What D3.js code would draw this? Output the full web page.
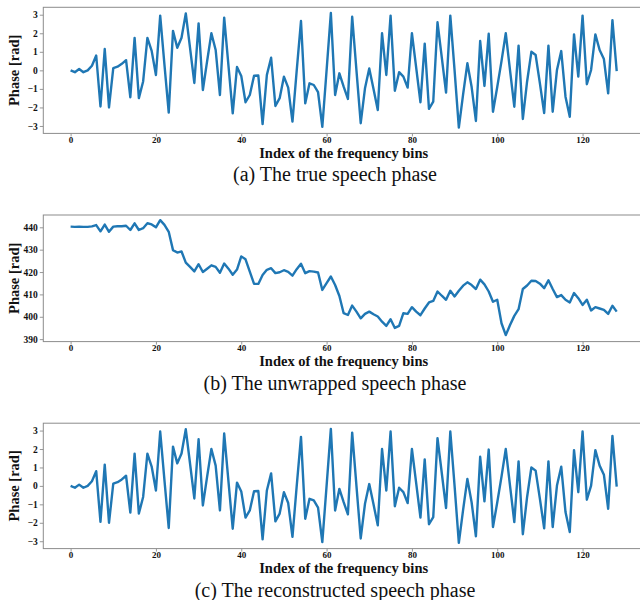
<!DOCTYPE html>
<html>
<head>
<meta charset="utf-8">
<script src="https://cdn.jsdelivr.net/npm/d3@7"></script>
<style>
  html, body { margin: 0; padding: 0; background: #fff; }
  svg { display: block; }
</style>
</head>
<body>
<svg id="chart" width="640" height="600"></svg>
<script>
// ---- data ----
const xTicks = [0, 20, 40, 60, 80, 100, 120];
const phaseTicks = [-3, -2, -1, 0, 1, 2, 3];
const unwrapTicks = [390, 400, 410, 420, 430, 440];

const truePhase = [
  0, -0.1, 0.07, -0.1, 0, 0.25, 0.8, -1.95, 1.15, -2.0,
  0.12, 0.2, 0.35, 0.55, -1.45, 1.75, -1.5, -0.6, 1.75, 1.05,
  -0.25, 2.95, 0.3, -2.28, 2.13, 1.22, 1.76, 3.07, 1.2, -0.68,
  2.53, -1.06, 0.5, 2.0, 1.1, -1.33, 2.84, 0.25, -2.32, 0.18,
  -0.3, -1.72, -1.33, -0.29, -0.28, -2.9, -0.25, 0.68, -1.92, -1.5,
  -0.34, -0.93, -2.76, 0, 2.66, -1.78, -0.7, -0.79, -1.18, -3.05,
  0, 3.09, -1.33, -0.16, -0.88, -1.54, 2.89, 0, -2.85, -0.97,
  0.1, -1.0, -2.14, 2.0, -0.25, 2.95, -1.1, -0.1, -0.34, -0.93,
  2.0, 0.15, -1.72, 1.44, -2.08, -1.69, 2.59, 0.7, -1.2, 2.95,
  0, -3.09, -1.3, 0.38, -0.9, -2.73, 1.58, -0.84, 1.97, -2.23,
  -0.9, 0.5, 2.0, 0, -1.96, 1.33, -2.62, -0.6, 1.0, 0.83,
  -0.7, -2.3, 1.33, -2.23, 0.02, 1.04, -1.42, -2.5, 1.94, -0.34,
  2.95, -0.75, 0.02, 1.94, 1.1, 0.61, -1.24, 2.71, -0.04
];

const unwrappedPhase = [
  440.3, 440.2, 440.3, 440.2, 440.2, 440.4, 441.0, 438.2, 441.2, 438.0,
  440.3, 440.5, 440.5, 440.7, 438.8, 441.8, 438.8, 439.6, 441.8, 441.3,
  440.0, 443.2, 441.1, 438.0, 429.8, 428.7, 429.2, 424.2, 422.3, 420.3,
  423.5, 420.0, 421.5, 423.0, 422.3, 419.7, 423.8, 421.5, 418.8, 421.1,
  427.0, 425.7, 420.2, 414.7, 414.7, 418.7, 421.0, 421.7, 419.5, 419.9,
  420.8, 420.1, 418.4, 421.3, 423.7, 419.5, 420.4, 420.2, 419.8, 412.0,
  415.0, 418.0, 414.2, 409.3, 401.6, 400.8, 405.0, 402.3, 399.3, 401.3,
  402.3, 401.1, 400.1, 397.8, 395.9, 398.9, 395.0, 395.9, 401.6, 401.3,
  404.3, 402.3, 400.7, 403.7, 406.4, 407.1, 411.3, 409.4, 407.6, 411.6,
  409.1, 411.6, 413.9, 415.4, 414.2, 412.4, 416.6, 414.5, 411.3, 406.7,
  407.6, 397.1, 391.8, 396.3, 400.4, 403.4, 412.4, 414.0, 416.1, 416.0,
  414.8, 412.8, 416.3, 412.4, 408.8, 409.7, 407.6, 406.4, 410.6, 408.3,
  405.3, 407.6, 402.8, 404.3, 403.7, 403.1, 401.3, 404.9, 402.3
];

const reconPhase = [
  0, -0.1, 0.07, -0.1, 0, 0.25, 0.8, -1.95, 1.15, -2.0,
  0.12, 0.2, 0.35, 0.55, -1.45, 1.75, -1.5, -0.6, 1.75, 1.05,
  -0.25, 2.95, 0.3, -2.28, 2.13, 1.22, 1.76, 3.07, 1.2, -0.68,
  2.53, -1.06, 0.5, 2.0, 1.1, -1.33, 2.84, 0.25, -2.32, 0.18,
  -0.3, -1.72, -1.33, -0.29, -0.28, -2.9, -0.25, 0.68, -1.92, -1.5,
  -0.34, -0.93, -2.76, 0, 2.66, -1.78, -0.7, -0.79, -1.18, -3.05,
  0, 3.09, -1.33, -0.16, -0.88, -1.54, 2.89, 0, -2.85, -0.97,
  0.1, -1.0, -2.14, 2.0, -0.25, 2.95, -1.1, -0.1, -0.34, -0.93,
  2.0, 0.15, -1.72, 1.44, -2.08, -1.69, 2.59, 0.7, -1.2, 2.95,
  0, -3.09, -1.3, 0.38, -0.9, -2.73, 1.58, -0.84, 1.97, -2.23,
  -0.9, 0.5, 2.0, 0, -1.96, 1.33, -2.62, -0.6, 1.0, 0.83,
  -0.7, -2.3, 1.33, -2.23, 0.02, 1.04, -1.42, -2.5, 1.94, -0.34,
  2.95, -0.75, 0.02, 1.94, 1.1, 0.61, -1.24, 2.71, -0.04
];

const xLabel = "Index of the frequency bins";
const yLabel = "Phase [rad]";
const captions = ["(a) The true speech phase", "(b) The unwrapped speech phase", "(c) The reconstructed speech phase"];

// ---- layout ----
const svg = d3.select("#chart");
svg.append("rect").attr("width", 640).attr("height", 600).attr("fill", "#fff");

const left = 43.3, right = 644;
const x = d3.scaleLinear().domain([-6.4, 134.4]).range([left, right]);

const panels = [
  { data: truePhase, top: 7.3, bottom: 133.4, domain: [-3.4, 3.4], ticks: phaseTicks, caption: captions[0] },
  { data: unwrappedPhase, top: 215, bottom: 341.6, domain: [388.9, 445.5], ticks: unwrapTicks, caption: captions[1] },
  { data: reconPhase, top: 423.2, bottom: 548.6, domain: [-3.4, 3.4], ticks: phaseTicks, caption: captions[2] }
];

const serif = "'Liberation Serif', 'Times New Roman', serif";
const frameColor = "#8c8c8c";

panels.forEach((p) => {
  const y = d3.scaleLinear().domain(p.domain).range([p.bottom, p.top]);
  const g = svg.append("g");

  // x axis
  const xa = g.append("g")
    .attr("transform", `translate(0,${p.bottom})`)
    .call(d3.axisBottom(x).tickValues(xTicks).tickSize(3).tickPadding(0).tickFormat(d3.format("d")));
  xa.select(".domain").remove();
  xa.selectAll(".tick line").attr("stroke", frameColor).attr("stroke-width", 0.9);
  xa.selectAll(".tick text")
    .attr("font-family", serif).attr("font-weight", "bold").attr("font-size", "9px").attr("fill", "#111");

  // y axis
  const ya = g.append("g")
    .attr("transform", `translate(${left},0)`)
    .call(d3.axisLeft(y).tickValues(p.ticks).tickSize(3.5).tickPadding(2).tickFormat(d3.format("d")));
  ya.select(".domain").remove();
  ya.selectAll(".tick line").attr("stroke", frameColor).attr("stroke-width", 0.9);
  ya.selectAll(".tick text")
    .attr("font-family", serif).attr("font-weight", "bold").attr("font-size", "9.5px").attr("fill", "#111");

  // frame
  g.append("rect")
    .attr("x", left).attr("y", p.top)
    .attr("width", right - left).attr("height", p.bottom - p.top)
    .attr("fill", "none").attr("stroke", frameColor).attr("stroke-width", 1);

  // line
  const line = d3.line().x((d, i) => x(i)).y(d => y(d));
  g.append("path")
    .datum(p.data)
    .attr("d", line)
    .attr("fill", "none")
    .attr("stroke", "#1f77b4")
    .attr("stroke-width", 2.4)
    .attr("stroke-linejoin", "round");

  // y label
  g.append("text")
    .attr("transform", `translate(19,${(p.top + p.bottom) / 2}) rotate(-90)`)
    .attr("text-anchor", "middle")
    .attr("font-family", serif).attr("font-weight", "bold").attr("font-size", "14.5px")
    .attr("fill", "#111")
    .text(yLabel);

  // x label
  g.append("text")
    .attr("x", (left + right) / 2).attr("y", p.bottom + 24.5)
    .attr("text-anchor", "middle")
    .attr("font-family", serif).attr("font-weight", "bold").attr("font-size", "14.5px")
    .attr("fill", "#111")
    .text(xLabel);

  // caption
  svg.append("text")
    .attr("x", 335).attr("y", p.bottom + 48)
    .attr("text-anchor", "middle")
    .attr("font-family", serif).attr("font-size", "20px")
    .attr("fill", "#111")
    .text(p.caption);
});
</script>
</body>
</html>
